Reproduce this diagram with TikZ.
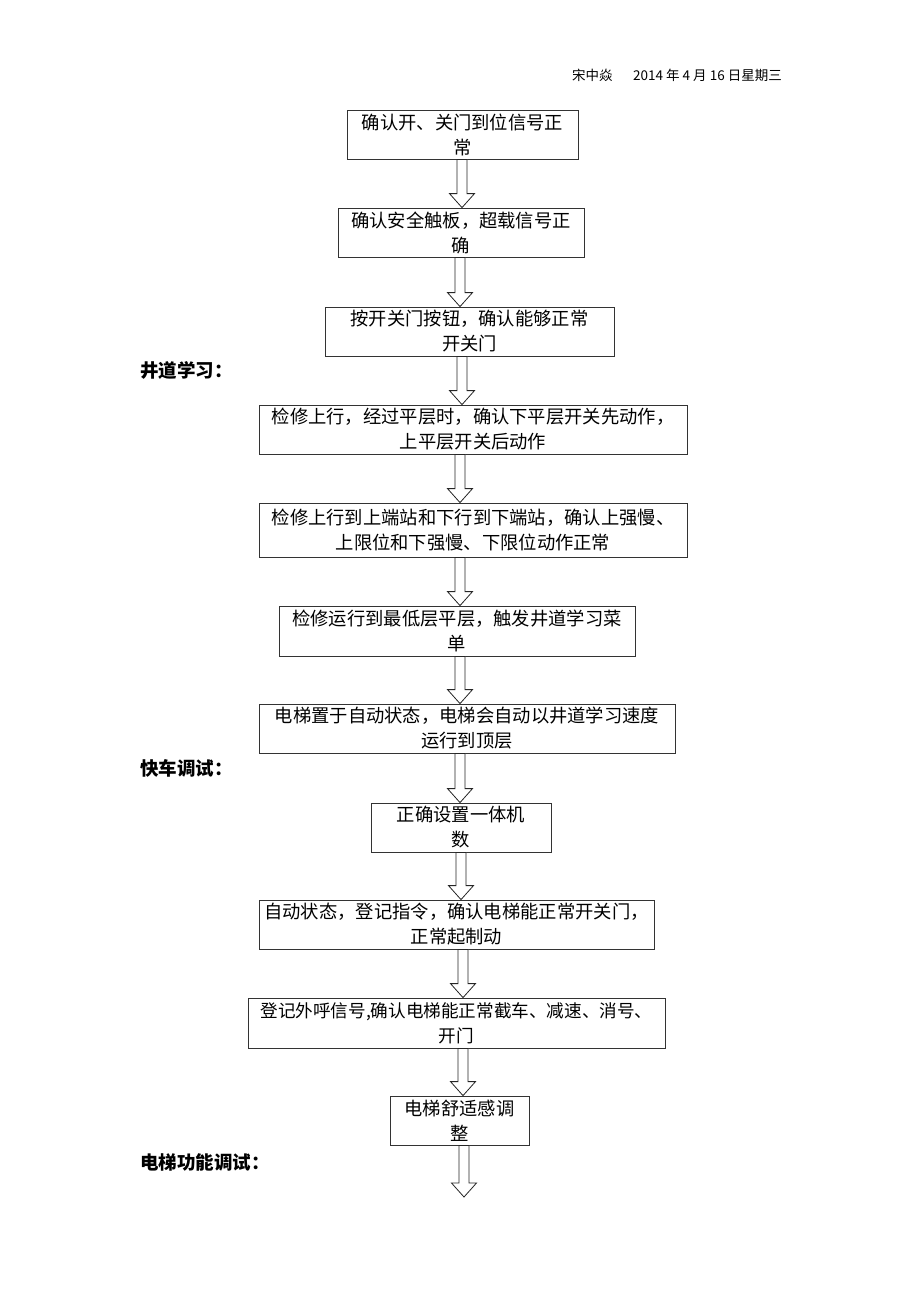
\documentclass[tikz,border=0pt]{standalone}
\usepackage{fontspec}
\setmainfont{Noto Sans CJK SC}
\usetikzlibrary{calc}
\newcommand\boxfont{\fontsize{18.3}{25}\selectfont}
\newcommand\headfont{\fontsize{13.5}{15}\selectfont}
\newcommand\secfont{\fontsize{18.5}{20}\selectfont\bfseries}
\tikzset{stepbox/.style={draw=black!80,line width=0.8pt,align=center,inner sep=0pt,font=\boxfont},
  hollow/.style={draw=black!85,line width=0.8pt,fill=white,line join=miter},
  sec/.style={anchor=west,inner sep=0pt,font=\secfont}}
\newcommand\flowarrow[3]{\draw[hollow] let \p1=(#1), \p2=(#2) in
  (#3pt-5pt,\y1) -- (#3pt-5pt,\y2+14pt) -- (#3pt-12.5pt,\y2+14pt) -- (#3pt,\y2)
  -- (#3pt+12.5pt,\y2+14pt) -- (#3pt+5pt,\y2+14pt) -- (#3pt+5pt,\y1) -- cycle;}
\begin{document}
\begin{tikzpicture}[x=1pt,y=1pt]
\useasboundingbox (0,0) rectangle (920,-1302);
\node[anchor=west,inner sep=0pt,font=\headfont] (h1) at (572,-75) {宋中焱};
\node[anchor=west,inner sep=0pt,font=\headfont] (h2) at (633,-75) {2014 年 4 月 16 日星期三};
\node[stepbox,minimum width=231pt,minimum height=49pt] (b1) at (462.5,-134.5) {确认开、关门到位信号正\\常};
\node[stepbox,minimum width=246pt,minimum height=49pt] (b2) at (461,-232.5) {确认安全触板，超载信号正\\确};
\node[stepbox,minimum width=289pt,minimum height=49pt] (b3) at (469.5,-331.5) {按开关门按钮，确认能够正常\\开关门};
\node[stepbox,minimum width=428pt,minimum height=49pt] (b4) at (473,-429.5) {检修上行，经过平层时，确认下平层开关先动作，\\上平层开关后动作};
\node[stepbox,minimum width=428pt,minimum height=54pt] (b5) at (473,-530) {检修上行到上端站和下行到下端站，确认上强慢、\\上限位和下强慢、下限位动作正常};
\node[stepbox,minimum width=356pt,minimum height=50pt] (b6) at (457,-631) {检修运行到最低层平层，触发井道学习菜\\单};
\node[stepbox,minimum width=416pt,minimum height=49pt] (b7) at (467,-728.5) {电梯置于自动状态，电梯会自动以井道学习速度\\运行到顶层};
\node[stepbox,minimum width=180pt,minimum height=49pt] (b8) at (461,-827.5) {正确设置一体机\\数};
\node[stepbox,minimum width=395pt,minimum height=49pt] (b9) at (456.5,-924.5) {自动状态，登记指令，确认电梯能正常开关门，\\正常起制动};
\node[stepbox,minimum width=417pt,minimum height=50pt,font=\fontsize{17.6}{25}\selectfont] (b10) at (456.5,-1023) {登记外呼信号,确认电梯能正常截车、减速、消号、\\开门};
\node[stepbox,minimum width=139pt,minimum height=49pt] (b11) at (459.5,-1120.5) {电梯舒适感调\\整};
\coordinate (end) at (464,-1197);
\node[sec] (s1) at (140,-370) {井道学习：};
\node[sec] (s2) at (140,-768) {快车调试：};
\node[sec] (s3) at (140,-1162) {电梯功能调试：};
\flowarrow{b1.south}{b2.north}{462}
\flowarrow{b2.south}{b3.north}{460}
\flowarrow{b3.south}{b4.north}{462}
\flowarrow{b4.south}{b5.north}{460}
\flowarrow{b5.south}{b6.north}{460}
\flowarrow{b6.south}{b7.north}{460}
\flowarrow{b7.south}{b8.north}{460}
\flowarrow{b8.south}{b9.north}{461}
\flowarrow{b9.south}{b10.north}{463}
\flowarrow{b10.south}{b11.north}{463}
\flowarrow{b11.south}{end}{464}
\end{tikzpicture}
\end{document}
